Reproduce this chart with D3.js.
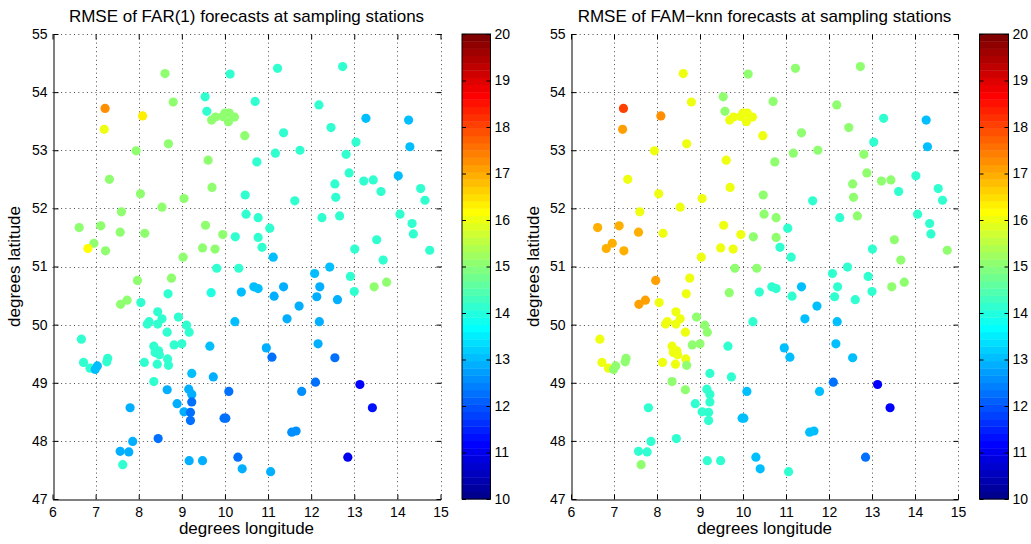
<!DOCTYPE html>
<html>
<head>
<meta charset="utf-8">
<script src="https://cdn.jsdelivr.net/npm/d3@7"></script>
<style>
  body { margin: 0; background: #fff; }
  svg { display: block; }
  text { font-family: "Liberation Sans", Arial, Helvetica, sans-serif; fill: #000; }
</style>
</head>
<body>
<svg id="chart" width="1031" height="544"></svg>
<script>
// Station coordinates (degrees)
const lon = [
  8.61, 10.12, 9.54, 10.70, 7.22, 8.09, 8.80, 9.58, 9.69, 9.78,
  9.95, 10.00, 10.10, 10.08, 10.22, 10.46, 7.20, 8.69, 7.94, 9.61,
  10.74, 7.32, 9.70, 8.04, 10.47, 9.05, 8.54, 10.49, 7.60, 10.77,
  6.62, 7.12, 9.55, 7.57, 8.14, 9.95, 10.24, 10.77, 6.96, 6.82,
  7.23, 9.48, 9.77, 9.03, 9.81, 10.32, 10.86, 11.22, 12.73, 12.18,
  13.27, 14.26, 11.36, 12.46, 13.04, 14.29, 11.17, 11.74, 12.81, 12.88,
  12.55, 13.22, 13.44, 14.02, 13.62, 14.54, 14.64, 12.57, 11.62, 12.25,
  12.66, 14.06, 14.34, 14.37, 11.04, 13.52, 13.01, 14.75, 11.12, 13.67,
  12.08, 12.43, 12.91, 7.97, 8.76, 7.58, 7.73, 8.05, 8.68, 9.68,
  10.38, 10.67, 10.77, 8.44, 8.54, 8.92, 8.24, 8.20, 8.44, 9.11,
  8.66, 9.17, 10.23, 6.67, 8.35, 8.82, 9.00, 9.65, 8.38, 8.46,
  8.48, 8.67, 6.72, 6.87, 6.99, 7.04, 7.28, 7.26, 8.13, 8.43,
  8.69, 9.23, 9.73, 8.35, 8.66, 9.16, 9.23, 10.09, 9.23, 8.89,
  7.80, 9.05, 9.20, 9.20, 9.98, 10.02, 8.45, 7.86, 7.57, 7.77,
  7.63, 9.17, 9.48, 10.30, 10.40, 11.36, 11.14, 12.20, 12.13, 12.61,
  13.00, 13.46, 13.75, 11.72, 11.44, 12.19, 10.96, 11.09, 12.16, 12.55,
  12.10, 13.13, 11.78, 13.42, 11.55, 11.65, 12.85, 11.06
];
const lat = [
  54.32, 54.31, 53.92, 53.84, 53.72, 53.59, 53.83, 53.67, 53.52, 53.57,
  53.58, 53.64, 53.64, 53.49, 53.57, 53.25, 53.36, 53.11, 52.99, 52.83,
  52.80, 52.50, 52.36, 52.25, 52.23, 52.17, 52.02, 51.90, 51.94, 51.84,
  51.67, 51.70, 51.71, 51.59, 51.57, 51.55, 51.51, 51.50, 51.40, 51.31,
  51.27, 51.32, 51.30, 51.16, 50.97, 50.97, 51.33, 54.41, 54.44, 53.78,
  53.55, 53.52, 53.30, 53.39, 53.14, 53.06, 52.95, 53.00, 52.93, 52.61,
  52.42, 52.47, 52.49, 52.56, 52.29, 52.34, 52.14, 52.19, 52.13, 51.84,
  51.87, 51.90, 51.74, 51.56, 51.66, 51.46, 51.30, 51.28, 51.16, 51.11,
  50.88, 50.99, 50.83, 50.76, 50.80, 50.35, 50.42, 50.38, 50.53, 50.55,
  50.56, 50.65, 50.62, 50.22, 50.10, 50.13, 50.05, 50.01, 50.01, 49.99,
  49.87, 49.87, 50.05, 49.75, 49.63, 49.65, 49.67, 49.63, 49.52, 49.55,
  49.48, 49.41, 49.35, 49.25, 49.23, 49.29, 49.42, 49.36, 49.35, 49.32,
  49.30, 49.16, 49.10, 49.02, 48.88, 48.89, 48.80, 48.85, 48.67, 48.64,
  48.57, 48.50, 48.49, 48.35, 48.39, 48.39, 48.04, 47.99, 47.82, 47.81,
  47.59, 47.66, 47.66, 47.72, 47.52, 50.65, 50.49, 50.65, 50.48, 50.43,
  50.57, 50.65, 50.73, 50.32, 50.10, 50.05, 49.60, 49.44, 49.67, 49.43,
  49.01, 48.97, 48.85, 48.57, 48.15, 48.17, 47.72, 47.47
];

// RMSE per station, FAR(1) model
const rmseFAR = [
  15.0, 14.1, 14.1, 14.1, 17.25, 16.3, 15.0, 14.1, 15.0, 15.0,
  15.0, 15.0, 15.0, 15.0, 15.0, 15.0, 16.0, 15.0, 15.0, 15.0,
  14.1, 15.0, 15.0, 15.0, 14.1, 15.0, 15.0, 14.1, 15.0, 14.1,
  15.0, 15.0, 15.0, 15.0, 15.0, 15.0, 14.1, 14.1, 15.0, 16.1,
  15.0, 15.0, 15.0, 15.0, 14.1, 14.1, 14.1, 14.1, 14.1, 14.1,
  13.1, 13.1, 14.1, 14.1, 14.1, 13.1, 14.1, 14.1, 14.1, 14.1,
  14.1, 14.1, 14.1, 13.1, 14.1, 14.1, 14.1, 14.1, 14.1, 14.1,
  14.1, 14.1, 14.1, 14.1, 14.1, 14.1, 14.1, 14.1, 13.1, 14.1,
  13.1, 13.1, 14.1, 15.0, 15.0, 15.0, 15.0, 14.1, 14.1, 14.0,
  13.1, 13.1, 13.1, 14.1, 14.1, 14.1, 14.1, 14.1, 14.1, 14.1,
  14.1, 14.1, 13.1, 14.1, 14.1, 14.1, 14.1, 13.1, 14.1, 14.1,
  14.1, 14.1, 14.1, 14.1, 13.1, 13.1, 14.1, 14.1, 14.1, 14.1,
  14.1, 13.1, 12.9, 14.1, 12.9, 12.9, 12.9, 12.2, 12.2, 12.9,
  12.9, 12.9, 12.2, 12.2, 12.2, 12.2, 12.2, 12.9, 12.9, 12.9,
  14.1, 12.9, 12.9, 12.2, 12.9, 12.9, 12.9, 12.9, 12.9, 12.9,
  14.1, 15.0, 15.0, 12.9, 12.9, 12.9, 12.9, 12.2, 12.9, 12.2,
  12.2, 11.2, 12.6, 11.3, 12.6, 12.6, 11.0, 12.9
];

// RMSE per station, FAM-knn model
const rmseFAM = [
  16.0, 15.0, 15.0, 15.0, 18.0, 17.2, 16.0, 15.0, 16.0, 16.0,
  16.0, 16.0, 16.0, 16.0, 16.0, 16.0, 17.1, 16.0, 16.0, 16.0,
  15.0, 16.0, 16.0, 16.0, 15.0, 16.0, 16.0, 15.0, 16.0, 15.0,
  17.0, 17.0, 16.0, 17.0, 16.0, 16.0, 15.0, 15.0, 17.0, 17.0,
  17.0, 16.0, 16.0, 16.0, 15.0, 15.0, 14.1, 15.0, 15.0, 15.0,
  14.1, 13.1, 15.0, 15.0, 14.1, 13.1, 15.0, 15.0, 15.0, 15.0,
  15.0, 15.0, 15.0, 14.1, 14.1, 14.1, 14.1, 15.0, 14.1, 14.1,
  15.0, 14.1, 14.1, 14.1, 14.1, 15.0, 14.1, 15.0, 14.1, 15.0,
  14.1, 14.1, 14.1, 17.1, 16.0, 17.1, 17.1, 16.0, 16.0, 15.0,
  14.1, 14.1, 14.1, 16.0, 16.0, 15.0, 16.0, 16.0, 16.0, 15.0,
  16.0, 15.0, 14.1, 16.0, 16.0, 15.0, 15.0, 14.1, 16.0, 16.0,
  16.0, 16.0, 16.0, 16.0, 15.0, 15.0, 15.0, 15.0, 16.0, 16.0,
  15.0, 14.1, 14.1, 15.0, 15.0, 14.1, 14.1, 13.1, 14.1, 14.1,
  14.1, 14.1, 14.1, 14.1, 13.1, 13.1, 14.1, 14.1, 14.1, 14.1,
  15.0, 14.1, 14.1, 13.1, 13.1, 13.1, 14.1, 14.1, 14.1, 14.1,
  14.1, 15.0, 15.0, 13.1, 13.1, 13.1, 13.1, 13.1, 13.1, 13.1,
  12.3, 11.1, 13.1, 11.2, 13.1, 13.1, 12.2, 14.1
];

const lonTicks = [6, 7, 8, 9, 10, 11, 12, 13, 14, 15];
const latTicks = [47, 48, 49, 50, 51, 52, 53, 54, 55];
const rmseTicks = [10, 11, 12, 13, 14, 15, 16, 17, 18, 19, 20];
const titles = [
  "RMSE of FAR(1) forecasts at sampling stations",
  "RMSE of FAM\u2212knn forecasts at sampling stations"
];

// 64-level jet colormap
function jet(i) {
  const r = i <= 24 ? 0 : i <= 40 ? (i - 24) / 16 : i <= 56 ? 1 : (72 - i) / 16;
  const g = i <= 8 ? 0 : i <= 24 ? (i - 8) / 16 : i <= 40 ? 1 : i <= 56 ? (56 - i) / 16 : 0;
  const b = i <= 8 ? (i + 8) / 16 : i <= 24 ? 1 : i <= 40 ? (40 - i) / 16 : 0;
  return d3.rgb(r * 255, g * 255, b * 255).formatHex();
}
const jetColors = d3.range(1, 65).map(jet);
const color = d3.scaleQuantize().domain([10, 20]).range(jetColors);

const svg = d3.select("#chart");
const plotTop = 34, plotBottom = 499;
const fontTick = 14, fontLabel = 17;

const panels = [
  { values: rmseFAR, title: titles[0], left: 52.5, right: 440.5, cbLeft: 462, cbRight: 490.5 },
  { values: rmseFAM, title: titles[1], left: 571, right: 958, cbLeft: 979.5, cbRight: 1008.5 }
];

panels.forEach(p => {
  const x = d3.scaleLinear().domain([6, 15]).range([p.left, p.right]);
  const y = d3.scaleLinear().domain([47, 55]).range([plotBottom, plotTop]);
  const g = svg.append("g");

  // dotted grid (incl. top and right box edges)
  const grid = g.append("g").attr("stroke", "#4a4a4a").attr("stroke-width", 1)
    .attr("stroke-dasharray", "1,3.3").attr("fill", "none");
  grid.selectAll("line.v").data(lonTicks.slice(1)).join("line").attr("class", "v")
    .attr("x1", d => Math.round(x(d)) + 0.5).attr("x2", d => Math.round(x(d)) + 0.5)
    .attr("y1", plotTop).attr("y2", plotBottom);
  grid.selectAll("line.h").data(latTicks.slice(1)).join("line").attr("class", "h")
    .attr("y1", d => Math.round(y(d)) + 0.5).attr("y2", d => Math.round(y(d)) + 0.5)
    .attr("x1", p.left).attr("x2", p.right);

  // station markers
  g.append("g").selectAll("circle").data(d3.range(lon.length)).join("circle")
    .attr("cx", i => x(lon[i])).attr("cy", i => y(lat[i])).attr("r", 4.6)
    .attr("fill", i => color(p.values[i]));

  // axes with inward ticks
  const styleAxis = sel => {
    sel.attr("font-size", fontTick).attr("font-family", null);
    sel.selectAll("line").attr("stroke", "#000");
    sel.selectAll("path").attr("stroke", "#000");
  };
  g.append("g").attr("transform", `translate(0,${plotBottom + 0.5})`)
    .call(d3.axisBottom(x).tickValues(lonTicks).tickFormat(d3.format("d"))
      .tickSize(-5).tickSizeOuter(0).tickPadding(8))
    .call(styleAxis);
  g.append("g").attr("transform", `translate(${Math.round(p.left) + 0.5},0)`)
    .call(d3.axisLeft(y).tickValues(latTicks).tickFormat(d3.format("d"))
      .tickSize(-5).tickSizeOuter(0).tickPadding(6))
    .call(styleAxis);
  g.append("g").attr("transform", `translate(0,${plotTop + 0.5})`)
    .call(d3.axisTop(x).tickValues(lonTicks).tickFormat("").tickSize(-5).tickSizeOuter(0))
    .call(styleAxis).call(a => a.select(".domain").remove());
  g.append("g").attr("transform", `translate(${Math.round(p.right) + 0.5},0)`)
    .call(d3.axisRight(y).tickValues(latTicks).tickFormat("").tickSize(-5).tickSizeOuter(0))
    .call(styleAxis).call(a => a.select(".domain").remove());

  // titles and axis labels
  const cx = (p.left + p.right) / 2;
  g.append("text").attr("x", cx).attr("y", 22).attr("text-anchor", "middle")
    .attr("font-size", fontLabel).text(p.title);
  g.append("text").attr("x", cx).attr("y", 534).attr("text-anchor", "middle")
    .attr("font-size", fontLabel).text("degrees longitude");
  g.append("text").attr("transform", `translate(${p.left - 32.5},${(plotTop + plotBottom) / 2}) rotate(-90)`)
    .attr("text-anchor", "middle").attr("font-size", fontLabel).text("degrees latitude");

  // colorbar
  const cy = d3.scaleLinear().domain([10, 20]).range([plotBottom, plotTop]);
  const step = 10 / 64;
  g.append("g").selectAll("rect").data(jetColors).join("rect")
    .attr("x", p.cbLeft).attr("width", p.cbRight - p.cbLeft)
    .attr("y", (c, k) => cy(10 + (k + 1) * step))
    .attr("height", (c, k) => cy(10 + k * step) - cy(10 + (k + 1) * step) + 0.4)
    .attr("fill", c => c);
  g.append("rect").attr("x", p.cbLeft).attr("y", plotTop)
    .attr("width", p.cbRight - p.cbLeft).attr("height", plotBottom - plotTop)
    .attr("fill", "none").attr("stroke", "#000").attr("stroke-width", 1);
  g.append("g").attr("transform", `translate(${p.cbRight},0)`)
    .call(d3.axisRight(cy).tickValues(rmseTicks).tickFormat(d3.format("d"))
      .tickSize(-4).tickSizeOuter(0).tickPadding(4))
    .call(styleAxis).call(a => a.select(".domain").remove());
  g.append("g").attr("transform", `translate(${p.cbLeft},0)`)
    .call(d3.axisLeft(cy).tickValues(rmseTicks).tickFormat("").tickSize(-4).tickSizeOuter(0))
    .call(styleAxis).call(a => a.select(".domain").remove());
});
</script>
</body>
</html>
